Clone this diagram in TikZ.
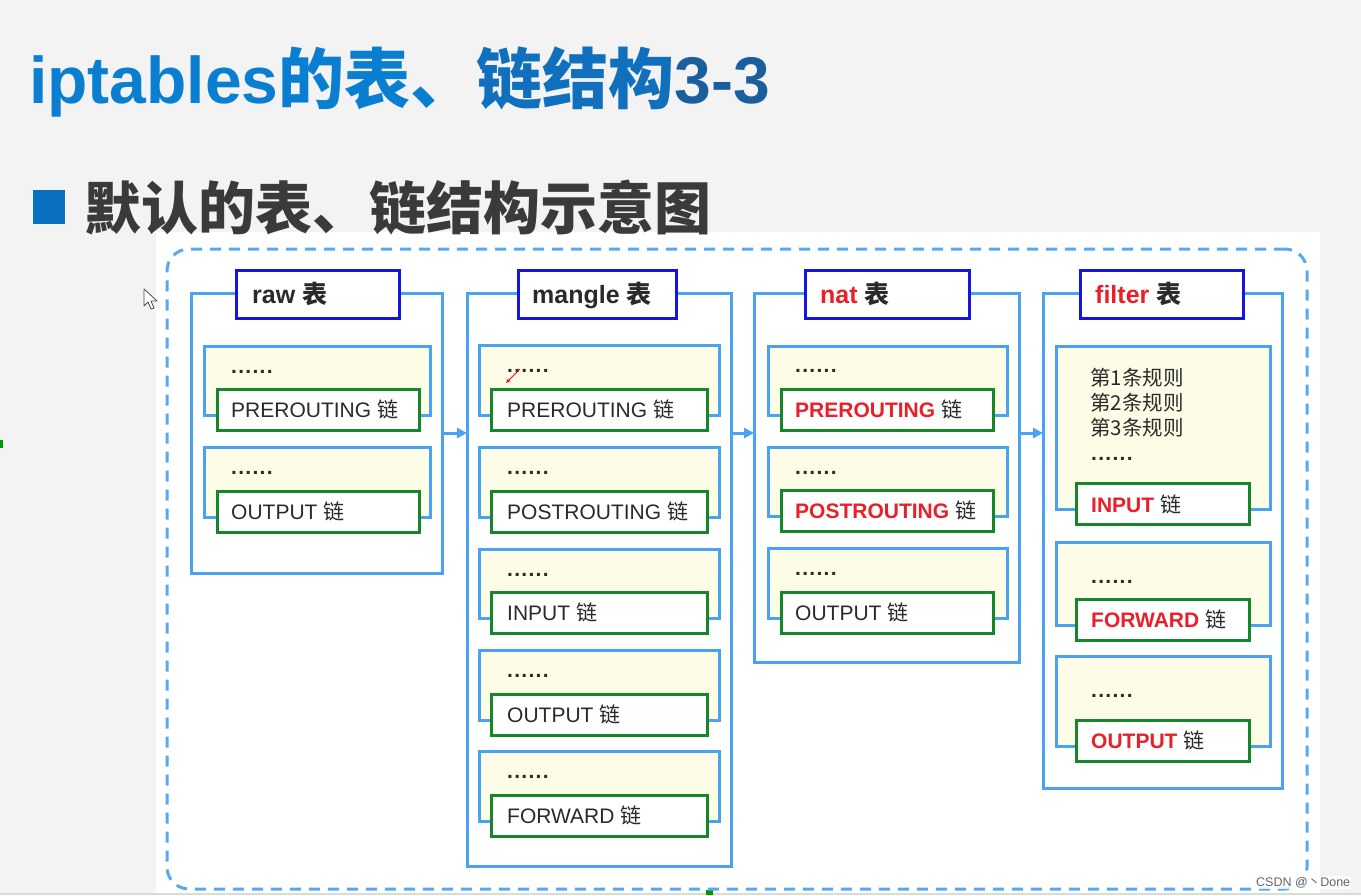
\documentclass[tikz,border=0pt]{standalone}
\usepackage{fontspec}
\setmainfont{Liberation Sans}
\newfontfamily\cjk{Noto Sans CJK SC}
\usetikzlibrary{arrows.meta}
\definecolor{tblue}{HTML}{4AA3F2}
\definecolor{hblue}{HTML}{1515DD}
\definecolor{cgreen}{HTML}{17862A}
\definecolor{yel}{HTML}{FDFDE7}
\definecolor{dblue}{HTML}{5AA8EE}
\definecolor{txt}{HTML}{2A2A2A}
\definecolor{redl}{HTML}{E8202A}
\definecolor{ttla}{HTML}{0A7FD2}
\definecolor{ttlb}{HTML}{1170BD}
\definecolor{ttlc}{HTML}{1B5E9E}
\definecolor{subc}{HTML}{3A3A3A}
\definecolor{sqc}{HTML}{0A70C2}
\definecolor{bgc}{HTML}{F3F3F3}
\newcommand\lian{{\cjk 链}}
\newcommand\biao{{\cjk 表}}
\newcommand\sixdots{.\kern1.3pt.\kern1.3pt.\kern1.3pt.\kern1.3pt.\kern1.3pt.}
\tikzset{
  box/.style={line width=3pt, inner sep=0pt, outer sep=0pt, anchor=north west},
  tbl/.style={box, draw=tblue},
  hdr/.style={box, draw=hblue, fill=white},
  grp/.style={box, draw=tblue, fill=yel},
  chn/.style={box, draw=cgreen, fill=white, minimum height=41pt},
  hlbl/.style={anchor=base west, inner sep=0pt, font=\fontsize{25}{28}\selectfont\bfseries, text=txt},
  clbl/.style={anchor=base west, inner sep=0pt, font=\fontsize{21}{24}\selectfont, text=txt},
  dots/.style={anchor=base west, inner sep=0pt, font=\fontsize{21}{24}\selectfont\bfseries, text=txt},
  arr/.style={draw=tblue, line width=3pt, -{Triangle[length=10pt,width=10pt]}},
  frame/.style={draw=dblue, line width=3pt, dash pattern=on 11pt off 8pt, rounded corners=22pt, inner sep=0pt, outer sep=0pt, anchor=north west}
}
\begin{document}
\begin{tikzpicture}[x=1pt,y=-1pt]
\useasboundingbox (0,0) rectangle (1361,895);
\fill[bgc] (0,0) rectangle (1361,895);
\fill[white] (156,232) rectangle (1320,895);
\draw[draw=green!20!gray!30, line width=1.5pt] (0,894) -- (1361,894);
\fill[green!60!black] (0,440) rectangle (3,448);
\fill[green!60!black] (706,890) rectangle (713,895);

% title
\node[anchor=base west, inner sep=0pt, font=\fontsize{66}{70}\selectfont\bfseries] (title) at (29,103)
  {\color{ttla}iptables{\cjk 的表、}\color{ttlb}{\cjk 链结构}\color{ttlc}3-3};
\node[box, fill=sqc, minimum width=32pt, minimum height=34pt] (sq) at (33,190) {};
\node[anchor=base west, inner sep=0pt, font=\fontsize{57}{60}\selectfont\bfseries\cjk, text=subc] (subtitle) at (84,229) {默认的表、链结构示意图};

% outer dashed frame
\node[frame, minimum width=1140pt, minimum height=640pt] (fr) at (167,249) {};

% tables
\node[tbl, minimum width=251pt, minimum height=280pt] (raw) at (191,293) {};
\node[tbl, minimum width=264pt, minimum height=573pt] (mangle) at (467,293) {};
\node[tbl, minimum width=265pt, minimum height=369pt] (nat) at (754,293) {};
\node[tbl, minimum width=239pt, minimum height=495pt] (filter) at (1043,293) {};

% headers
\node[hdr, minimum width=163pt, minimum height=48pt] (rawH) at (236,270) {};
\node[hlbl] (rawHt) at (252,303) {raw \biao};
\node[hdr, minimum width=158pt, minimum height=48pt] (mangleH) at (518,270) {};
\node[hlbl] (mangleHt) at (532,303) {mangle \biao};
\node[hdr, minimum width=164pt, minimum height=48pt] (natH) at (805,270) {};
\node[hlbl] (natHt) at (820,303) {{\color{redl}nat} \biao};
\node[hdr, minimum width=163pt, minimum height=48pt] (filterH) at (1080,270) {};
\node[hlbl] (filterHt) at (1095,303) {{\color{redl}filter} \biao};

% arrows
\draw[arr] (raw.east) -- (raw.east -| mangle.west);
\draw[arr] (mangle.east |- raw.east) -- (nat.west |- raw.east);
\draw[arr] (nat.east |- raw.east) -- (filter.west |- raw.east);

% raw groups
\node[grp, minimum width=226pt, minimum height=69pt] (rg1) at (204,346) {};
\node[dots] (rd1) at (231,373) {\sixdots};
\node[chn, minimum width=202pt] (rc1) at (217,389) {};
\node[clbl] (rt1) at (231,417) {PREROUTING \lian};
\node[grp, minimum width=226pt, minimum height=70pt] (rg2) at (204,447) {};
\node[dots] (rd2) at (231,474) {\sixdots};
\node[chn, minimum width=202pt] (rc2) at (217,491) {};
\node[clbl] (rt2) at (231,519) {OUTPUT \lian};

% mangle groups
\node[grp, minimum width=240pt, minimum height=70pt] (mg1) at (479,345) {};
\node[dots] (md1) at (507,372) {\sixdots};
\node[chn, minimum width=216pt] (mc1) at (491,389) {};
\node[clbl] (mt1) at (507,417) {PREROUTING \lian};
\node[grp, minimum width=240pt, minimum height=70pt] (mg2) at (479,447) {};
\node[dots] (md2) at (507,474) {\sixdots};
\node[chn, minimum width=216pt] (mc2) at (491,491) {};
\node[clbl] (mt2) at (507,519) {POSTROUTING \lian};
\node[grp, minimum width=240pt, minimum height=69pt] (mg3) at (479,549) {};
\node[dots] (md3) at (507,576) {\sixdots};
\node[chn, minimum width=216pt] (mc3) at (491,592) {};
\node[clbl] (mt3) at (507,620) {INPUT \lian};
\node[grp, minimum width=240pt, minimum height=70pt] (mg4) at (479,650) {};
\node[dots] (md4) at (507,677) {\sixdots};
\node[chn, minimum width=216pt] (mc4) at (491,694) {};
\node[clbl] (mt4) at (507,722) {OUTPUT \lian};
\node[grp, minimum width=240pt, minimum height=70pt] (mg5) at (479,751) {};
\node[dots] (md5) at (507,778) {\sixdots};
\node[chn, minimum width=216pt] (mc5) at (491,795) {};
\node[clbl] (mt5) at (507,823) {FORWARD \lian};

% nat groups
\node[grp, minimum width=239pt, minimum height=69pt] (ng1) at (768,346) {};
\node[dots] (nd1) at (795,372) {\sixdots};
\node[chn, minimum width=212pt] (nc1) at (781,389) {};
\node[clbl] (nt1) at (795,417) {{\bfseries\color{redl}PREROUTING} \lian};
\node[grp, minimum width=239pt, minimum height=69pt] (ng2) at (768,447) {};
\node[dots] (nd2) at (795,474) {\sixdots};
\node[chn, minimum width=212pt] (nc2) at (781,490) {};
\node[clbl] (nt2) at (795,518) {{\bfseries\color{redl}POSTROUTING} \lian};
\node[grp, minimum width=239pt, minimum height=70pt] (ng3) at (768,548) {};
\node[dots] (nd3) at (795,575) {\sixdots};
\node[chn, minimum width=212pt] (nc3) at (781,592) {};
\node[clbl] (nt3) at (795,620) {OUTPUT \lian};

% filter groups
\node[grp, minimum width=214pt, minimum height=163pt] (fg1) at (1056,346) {};
\node[anchor=base west, inner sep=0pt, font=\fontsize{20.5}{25}\selectfont\cjk, text=txt] (fr1) at (1090,385) {第1条规则};
\node[anchor=base west, inner sep=0pt, font=\fontsize{20.5}{25}\selectfont\cjk, text=txt] (fr2) at (1090,410) {第2条规则};
\node[anchor=base west, inner sep=0pt, font=\fontsize{20.5}{25}\selectfont\cjk, text=txt] (fr3) at (1090,435) {第3条规则};
\node[dots] (fd1) at (1091,460) {\sixdots};
\node[chn, minimum width=173pt] (fc1) at (1076,483) {};
\node[clbl] (ft1) at (1091,512) {{\bfseries\color{redl}INPUT} \lian};
\node[grp, minimum width=214pt, minimum height=83pt] (fg2) at (1056,542) {};
\node[dots] (fd2) at (1091,583) {\sixdots};
\node[chn, minimum width=173pt] (fc2) at (1076,599) {};
\node[clbl] (ft2) at (1091,627) {{\bfseries\color{redl}FORWARD} \lian};
\node[grp, minimum width=214pt, minimum height=90pt] (fg3) at (1056,656) {};
\node[dots] (fd3) at (1091,697) {\sixdots};
\node[chn, minimum width=173pt] (fc3) at (1076,720) {};
\node[clbl] (ft3) at (1091,748) {{\bfseries\color{redl}OUTPUT} \lian};

% mouse cursor and red pointer mark
\draw[fill=white, draw=black!70, line width=0.8pt, line join=round]
  (144,289) -- (144,306) -- (148,302) -- (151,309) -- (154,308) -- (151,301) -- (157,301) -- cycle;
\draw[red, line width=1pt, -{Stealth[length=5pt,width=4pt]}] (520,369) -- (506,383);

% watermark
\node[anchor=base west, inner sep=1pt, fill=white, fill opacity=0.8, text opacity=1, text=black!60, font=\fontsize{12.5}{14}\selectfont] (wm) at (1255,886) {CSDN @{\cjk 丶}Done};
\end{tikzpicture}
\end{document}
